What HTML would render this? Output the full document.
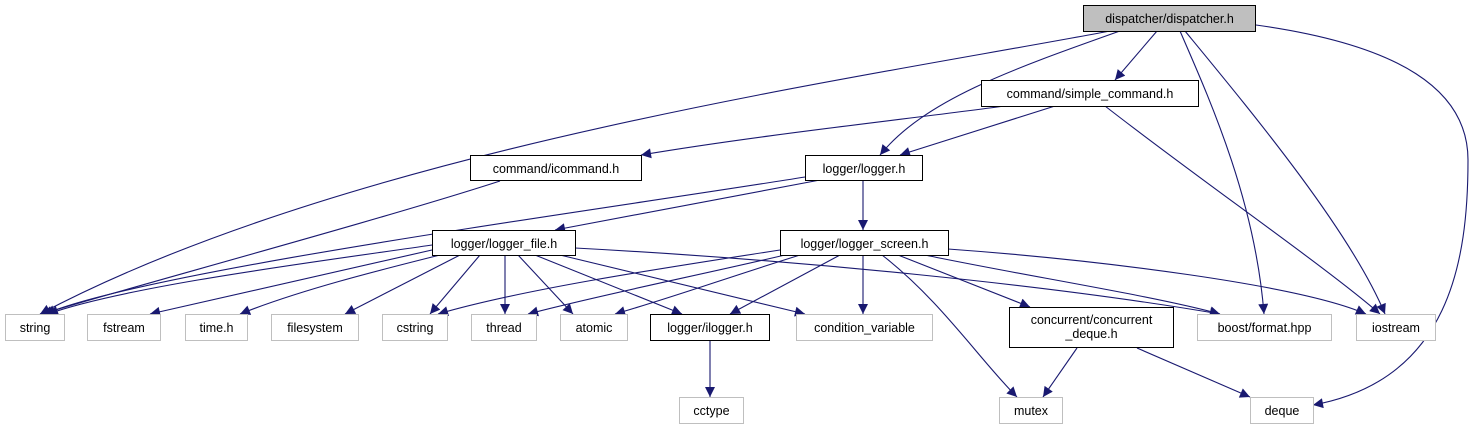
<!DOCTYPE html>
<html><head><meta charset="utf-8"><style>
html,body{margin:0;padding:0;background:#fff;width:1479px;height:425px;overflow:hidden}
svg text{font-family:"Liberation Sans",sans-serif;font-size:12.5px;fill:#000}
</style></head><body>
<svg width="1479" height="425" viewBox="0 0 1479 425" xmlns="http://www.w3.org/2000/svg">
<defs>
<marker id="a" viewBox="0 0 10 10" refX="10" refY="5" markerWidth="11" markerHeight="10" markerUnits="userSpaceOnUse" orient="auto">
<path d="M0,0 L10,5 L0,10 z" fill="#191970"/></marker>
</defs>
<g fill="none" stroke="#191970" stroke-width="1.1" marker-end="url(#a)">
<path d="M1110,31 C850,80 350,150 40,314"/>
<path d="M1120,31 C1010,70 925,100 880,155"/>
<path d="M1157,31 L1115,80"/>
<path d="M1180,31 C1210,100 1255,200 1264,314"/>
<path d="M1185,31 C1250,110 1350,230 1385,314"/>
<path d="M1256,25 C1400,45 1468,90 1468,160 C1468,260 1450,380 1313,405"/>
<path d="M1005,106 C900,120 760,135 641,155"/>
<path d="M1055,106 L900,155"/>
<path d="M1105,106 C1200,180 1330,270 1380,314"/>
<path d="M500,181 C380,220 120,290 42,314"/>
<path d="M805,177 C600,210 150,270 45,314"/>
<path d="M820,180 L555,230"/>
<path d="M863,180 L863,230"/>
<path d="M432,245 C330,260 130,285 48,314"/>
<path d="M432,250 L150,314"/>
<path d="M440,255 C380,270 300,290 240,314"/>
<path d="M460,255 L345,314"/>
<path d="M480,255 L430,314"/>
<path d="M505,255 L505,314"/>
<path d="M518,255 L573,314"/>
<path d="M535,255 L682,314"/>
<path d="M560,255 L805,314"/>
<path d="M575,248 C800,260 1050,285 1220,314"/>
<path d="M780,250 C650,270 520,290 438,314"/>
<path d="M785,255 C700,275 600,295 528,314"/>
<path d="M800,255 C720,280 680,295 615,314"/>
<path d="M840,255 L730,314"/>
<path d="M863,255 L863,314"/>
<path d="M882,255 C940,300 980,360 1017,397"/>
<path d="M898,255 L1030,307"/>
<path d="M925,255 C1020,275 1150,295 1220,314"/>
<path d="M948,249 C1100,260 1300,285 1366,314"/>
<path d="M1077,348 L1043,397"/>
<path d="M1137,348 L1250,397"/>
<path d="M710,340 L710,397"/>
</g>
<g stroke-width="1">
<rect x="1083.5" y="5.5" width="172" height="26" fill="#bfbfbf" stroke="#000"/>
<rect x="981.5" y="80.5" width="217" height="26" fill="#fff" stroke="#000"/>
<rect x="470.5" y="155.5" width="171" height="25" fill="#fff" stroke="#000"/>
<rect x="805.5" y="155.5" width="117" height="25" fill="#fff" stroke="#000"/>
<rect x="432.5" y="230.5" width="143" height="25" fill="#fff" stroke="#000"/>
<rect x="780.5" y="230.5" width="168" height="25" fill="#fff" stroke="#000"/>
<rect x="650.5" y="314.5" width="119" height="26" fill="#fff" stroke="#000"/>
<rect x="1009.5" y="307.5" width="164" height="40" fill="#fff" stroke="#000"/>
<g fill="#fff" stroke="#bfbfbf">
<rect x="5.5" y="314.5" width="59" height="26"/>
<rect x="87.5" y="314.5" width="73" height="26"/>
<rect x="185.5" y="314.5" width="62" height="26"/>
<rect x="271.5" y="314.5" width="87" height="26"/>
<rect x="382.5" y="314.5" width="65" height="26"/>
<rect x="471.5" y="314.5" width="65" height="26"/>
<rect x="560.5" y="314.5" width="67" height="26"/>
<rect x="796.5" y="314.5" width="136" height="26"/>
<rect x="1197.5" y="314.5" width="134" height="26"/>
<rect x="1356.5" y="314.5" width="79" height="26"/>
<rect x="679.5" y="397.5" width="64" height="26"/>
<rect x="999.5" y="397.5" width="63" height="26"/>
<rect x="1250.5" y="397.5" width="63" height="26"/>
</g>
</g>
<g text-anchor="middle">
<text x="1169.5" y="23">dispatcher/dispatcher.h</text>
<text x="1090" y="98">command/simple_command.h</text>
<text x="556" y="173">command/icommand.h</text>
<text x="864" y="173">logger/logger.h</text>
<text x="504" y="248">logger/logger_file.h</text>
<text x="864.5" y="248">logger/logger_screen.h</text>
<text x="710" y="332">logger/ilogger.h</text>
<text x="1091.5" y="324">concurrent/concurrent</text>
<text x="1091.5" y="338">_deque.h</text>
<text x="35" y="332">string</text>
<text x="124" y="332">fstream</text>
<text x="216.5" y="332">time.h</text>
<text x="315" y="332">filesystem</text>
<text x="415" y="332">cstring</text>
<text x="504" y="332">thread</text>
<text x="594" y="332">atomic</text>
<text x="864.5" y="332">condition_variable</text>
<text x="1264.5" y="332">boost/format.hpp</text>
<text x="1396" y="332">iostream</text>
<text x="711.5" y="415">cctype</text>
<text x="1031" y="415">mutex</text>
<text x="1282" y="415">deque</text>
</g>
</svg>
</body></html>
